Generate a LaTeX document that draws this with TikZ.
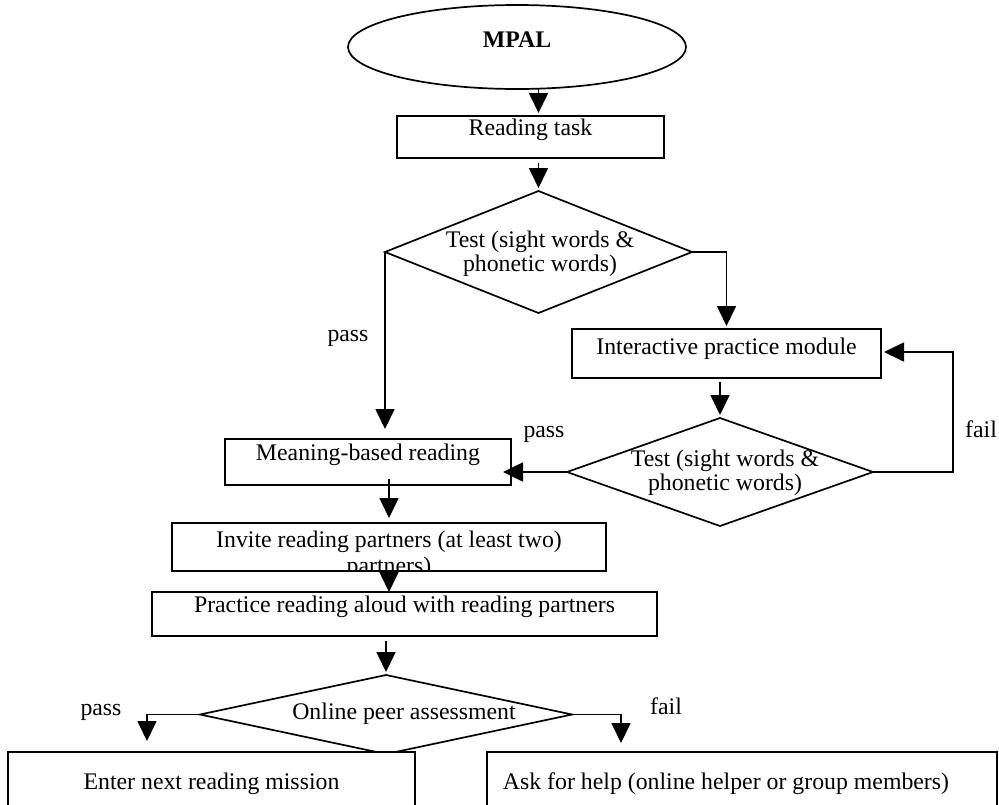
\documentclass[tikz,border=0pt]{standalone}
\usepackage{fontspec}
\setmainfont{Liberation Serif}
\usetikzlibrary{arrows.meta}
\usetikzlibrary{shapes.geometric}

\begin{document}
\begin{tikzpicture}[x=1pt, y=-1pt, line width=1.7pt,
    font=\fontsize{23.8pt}{24pt}\selectfont,
    box/.style={draw, rectangle, inner sep=0pt, outer sep=0pt, fill=white},
    decision/.style={draw, diamond, inner sep=0pt, outer sep=0pt},
    txt/.style={inner sep=0pt, align=center},
    flow/.style={-{Triangle[length=20pt,width=19pt]}}]

    \useasboundingbox (0,0) rectangle (999,804);

    % start
    \node[draw, ellipse, inner sep=0pt, outer sep=0pt, minimum width=338pt, minimum height=84pt] (mpal) at (517,47) {};
    \node[txt, font=\fontsize{23.8pt}{24pt}\selectfont\bfseries] (mpaltxt) at ([yshift=7.5pt]mpal.center) {MPAL};

    % steps
    \node[box, minimum width=267pt, minimum height=42pt] (read) at (530.5,137) {};
    \node[txt, anchor=north] (readtxt) at ([yshift=-2pt]read.north) {Reading task};

    \node[decision, minimum width=307pt, minimum height=122pt] (test1) at (538.5,252) {};
    \node[txt] (test1txt) at ([xshift=1.5pt, yshift=-2pt]test1.center) {Test (sight words \&\\ phonetic words)};

    \node[box, minimum width=309pt, minimum height=49pt] (module) at (726.5,353.5) {};
    \node[txt, anchor=north] (moduletxt) at ([yshift=-8pt]module.north) {Interactive practice module};

    \node[decision, minimum width=306pt, minimum height=108pt] (test2) at (720,472) {};
    \node[txt] (test2txt) at ([xshift=5pt, yshift=-1pt]test2.center) {Test (sight words \&\\ phonetic words)};

    \node[box, minimum width=286pt, minimum height=46pt] (meaning) at (368,462) {};
    \node[txt, anchor=north] (meaningtxt) at ([yshift=-4pt]meaning.north) {Meaning-based reading};

    \node[box, minimum width=434pt, minimum height=48pt] (invite) at (389,547) {};
    \begin{scope}
      \clip (invite.north west) rectangle (invite.south east);
      \node[txt, anchor=north, font=\fontsize{23.8pt}{26pt}\selectfont] (invitetxt) at ([yshift=-7pt]invite.north) {Invite reading partners (at least two)\\ partners)};
    \end{scope}

    \node[box, minimum width=505pt, minimum height=44pt] (aloud) at (404.5,614) {};
    \node[txt, anchor=north] (aloudtxt) at ([yshift=-3pt]aloud.north) {Practice reading aloud with reading partners};

    \node[decision, minimum width=372pt, minimum height=79pt] (test3) at (386,714.5) {};
    \node[txt] (test3txt) at ([xshift=18pt, yshift=1pt]test3.center) {Online peer assessment};

    \node[box, minimum width=407pt, minimum height=88pt] (enter) at (211.5,796) {};
    \node[txt, anchor=north] (entertxt) at ([yshift=-20pt]enter.north) {Enter next reading mission};

    \node[box, minimum width=510pt, minimum height=88pt] (help) at (742,796) {};
    \node[txt, anchor=north] (helptxt) at ([xshift=-16pt, yshift=-20pt]help.north) {Ask for help (online helper or group members)};

    % arrows
    \draw[flow, shorten >=3pt] (test1.north |- mpal.south) -- (test1.north |- read.north);
    \draw[flow, shorten <=5pt, shorten >=3pt] (test1.north |- read.south) -- (test1.north);
    \draw[flow, shorten >=10pt] (test1.west) -- (test1.west |- meaning.north);
    \draw[flow, shorten >=3pt] (test1.east) -| (module.north);
    \draw[flow, shorten <=4pt, shorten >=3pt] (test2.north |- module.south) -- (test2.north);
    \coordinate (back) at (953,352);
    \draw[flow, shorten >=3pt] (test2.east) -| (back) -- (back -| module.east);
    \draw[flow, shorten >=-8pt] (test2.west) -- (test2.west -| meaning.east);
    \draw[flow, shorten <=-6pt, shorten >=5pt] (invite.north |- meaning.south) -- (invite.north);
    \draw[flow] (invite.south) -- (invite.south |- aloud.north);
    \draw[flow, shorten <=5pt, shorten >=3pt] (test3.north |- aloud.south) -- (test3.north);
    \coordinate (passend) at (147,741);
    \coordinate (failend) at (621,743);
    \draw[flow] (test3.west) -| (passend);
    \draw[flow] (test3.east) -| (failend);

    % branch labels
    \node[txt, anchor=base] (pass1) at (348,341) {pass};
    \node[txt, anchor=base] (pass2) at (544,437) {pass};
    \node[txt, anchor=base] (fail2) at (981,437) {fail};
    \node[txt, anchor=base] (pass3) at (101,715) {pass};
    \node[txt, anchor=base] (fail3) at (666,714) {fail};

\end{tikzpicture}
\end{document}
